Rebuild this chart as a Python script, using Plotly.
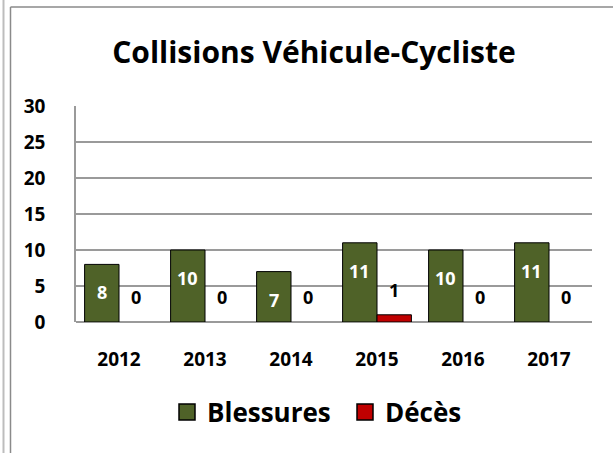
import plotly.graph_objects as go

years = ["2012", "2013", "2014", "2015", "2016", "2017"]
blessures = [8, 10, 7, 11, 10, 11]
deces = [0, 0, 0, 1, 0, 0]

GREEN = "#4F6228"
RED = "#C00000"
FONT = "Open Sans"

fig = go.Figure()
fig.add_trace(go.Bar(x=years, y=blessures, name="Blessures",
                     marker=dict(color=GREEN, line=dict(color="black", width=[1 if v else 0 for v in blessures])), showlegend=False))
fig.add_trace(go.Bar(x=years, y=deces, name="Décès",
                     marker=dict(color=RED, line=dict(color="black", width=[1 if v else 0 for v in deces])), showlegend=False))
# legend proxies on hidden axes
fig.add_trace(go.Scatter(x=[None], y=[None], mode="markers", name="<b>Blessures</b>", xaxis="x2", yaxis="y2",
                         marker=dict(symbol="square", size=16, color=GREEN, line=dict(color="black", width=1.5))))
fig.add_trace(go.Scatter(x=[None], y=[None], mode="markers", name="<b>Décès</b>", xaxis="x2", yaxis="y2",
                         marker=dict(symbol="square", size=16, color=RED, line=dict(color="black", width=1.5))))

L, R, T, B = 76, 21, 106, 131
W, H = 613, 453
pw = W - L - R
ph = H - T - B
bargap = 0.2
cat_px = pw / len(years)
half = cat_px * (1 - bargap) / 4

annotations = []
for i, v in enumerate(blessures):
    annotations.append(dict(x=i, y=v, xref="x", yref="y", text=f"<b>{v}</b>", showarrow=False,
                            xshift=-half, yshift=-28, font=dict(family=FONT, size=18, color="white")))
for i, v in enumerate(deces):
    annotations.append(dict(x=i, y=v, xref="x", yref="y", text=f"<b>{v}</b>", showarrow=False,
                            xshift=half, yshift=25, font=dict(family=FONT, size=18, color="black")))

def px_x(p):
    return (p - L) / pw
def px_y(p):
    return (H - B - p) / ph

shapes = [
    dict(type="line", xref="paper", yref="paper", x0=px_x(3.5), x1=px_x(3.5), y0=px_y(0), y1=px_y(H), line=dict(color="#bdbdbd", width=2)),
    dict(type="line", xref="paper", yref="paper", x0=px_x(10.5), x1=px_x(10.5), y0=px_y(7), y1=px_y(H), line=dict(color="#8a8a8a", width=1.5)),
    dict(type="line", xref="paper", yref="paper", x0=px_x(10.5), x1=px_x(W), y0=px_y(7), y1=px_y(7), line=dict(color="#8a8a8a", width=1.5)),
]

fig.update_layout(
    width=W, height=H,
    margin=dict(l=L, r=R, t=T, b=B, pad=0),
    paper_bgcolor="white", plot_bgcolor="white",
    barmode="group", bargap=bargap, bargroupgap=0,
    title=dict(text="<b>Collisions Véhicule-Cycliste</b>", x=px_x(314), xanchor="center", xref="paper",
               y=1 - 52 / H, yanchor="middle", font=dict(family=FONT, size=30, color="black")),
    font=dict(family=FONT, color="black"),
    xaxis=dict(type="category", range=[-0.5, len(years) - 0.5], showgrid=False, showline=False, ticks="", ticklabelstandoff=24,
               tickfont=dict(family=FONT, size=19, color="black"), tickprefix="<b>", ticksuffix="</b>", zeroline=False),
    yaxis=dict(range=[0, 30], dtick=5, showgrid=True, gridcolor="#9a9a9a", gridwidth=1.5,
               showline=True, linecolor="#9a9a9a", linewidth=1.5, ticks="", ticklabelstandoff=25,
               tickfont=dict(family=FONT, size=19, color="black"), tickprefix="<b>", ticksuffix="</b>",
               zeroline=True, zerolinecolor="#9a9a9a", zerolinewidth=1.5),
    xaxis2=dict(visible=False, overlaying="x", range=[0, 1]),
    yaxis2=dict(visible=False, overlaying="y", range=[0, 1]),
    legend=dict(orientation="h", x=px_x(345), xanchor="center", y=px_y(412), yanchor="middle",
                entrywidth=133, entrywidthmode="pixels",
                font=dict(family=FONT, size=26, color="black"), itemclick=False, tracegroupgap=0),
    annotations=annotations,
    shapes=shapes,
)

fig.write_html("out.html", config={"displayModeBar": False},
               post_script="document.body.style.margin='0';document.body.style.overflow='hidden';")
